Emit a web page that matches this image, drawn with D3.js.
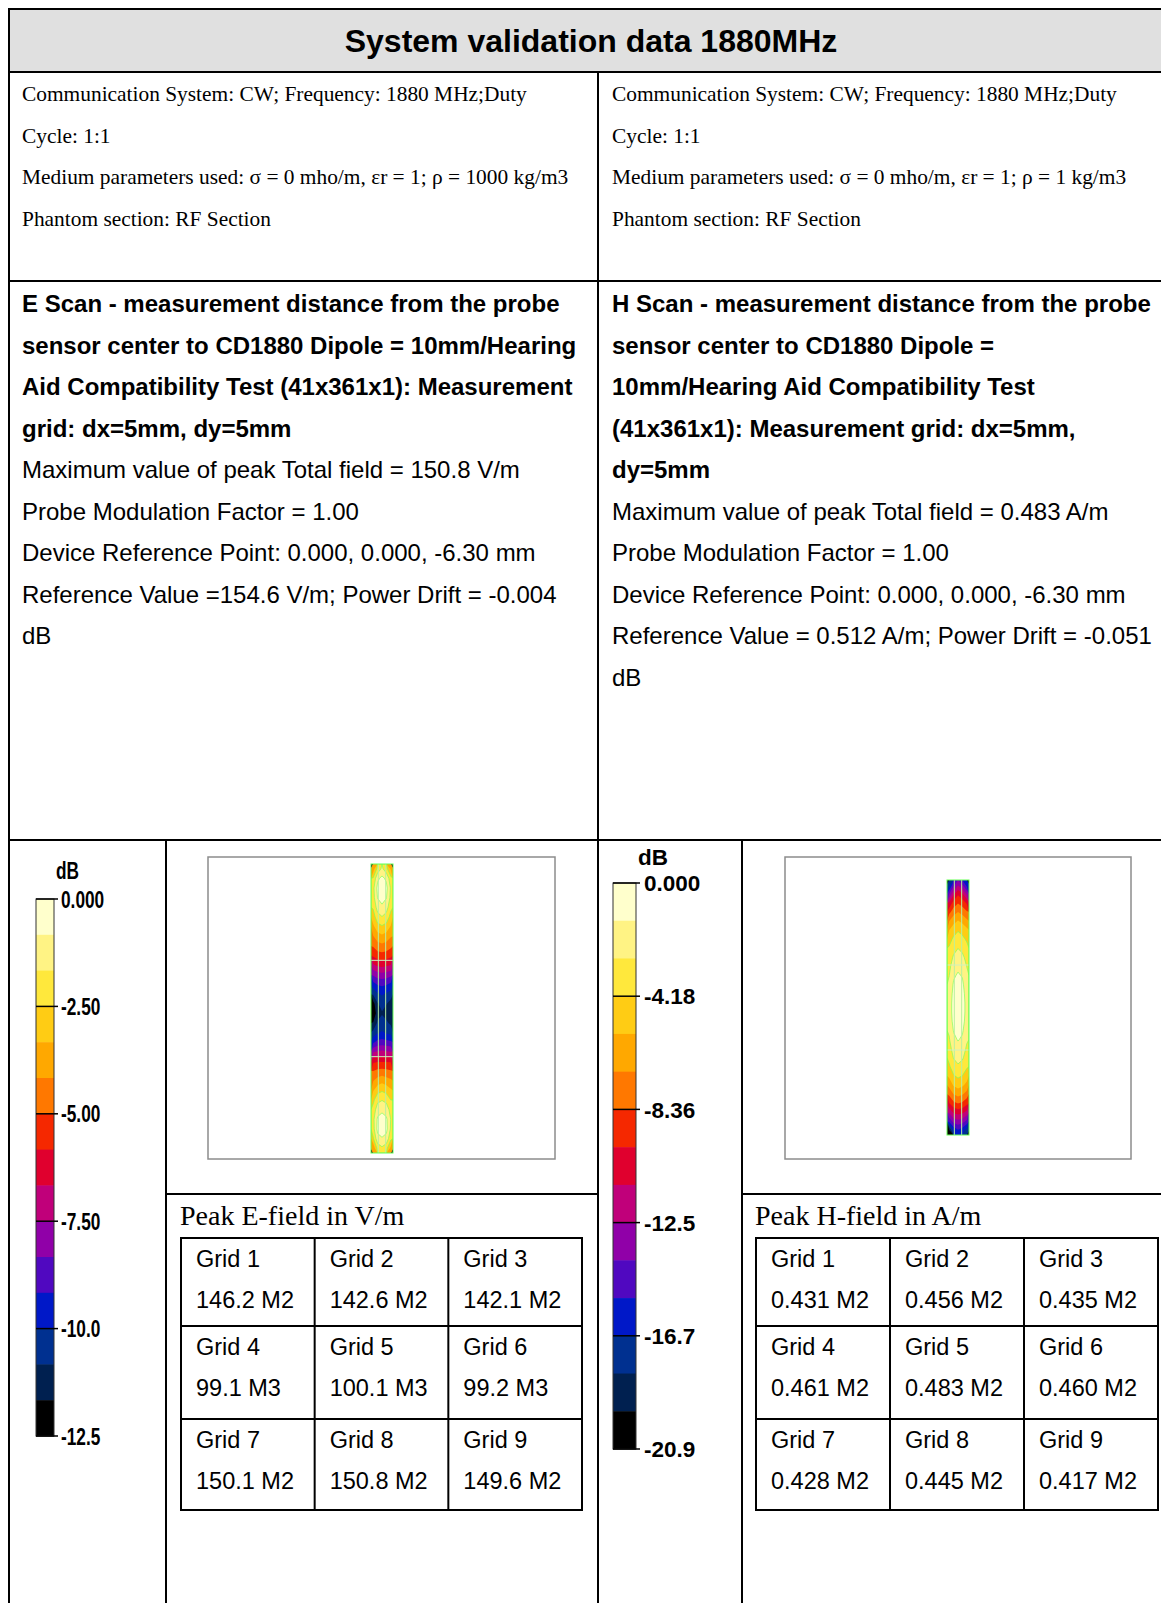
<!DOCTYPE html>
<html><head><meta charset="utf-8">
<script src="https://cdn.jsdelivr.net/npm/d3@7"></script>
<style>body{margin:0;background:#fff;} svg{display:block}</style>
</head><body>
<svg id="c" width="1161" height="1603"></svg>
<script>
// ---------------- data ----------------
const title = "System validation data 1880MHz";
const infoLeft = [
  "Communication System: CW; Frequency: 1880 MHz;Duty",
  "Cycle: 1:1",
  "Medium parameters used: σ = 0 mho/m, εr = 1; ρ = 1000 kg/m3",
  "Phantom section: RF Section"
];
const infoRight = [
  "Communication System: CW; Frequency: 1880 MHz;Duty",
  "Cycle: 1:1",
  "Medium parameters used: σ = 0 mho/m, εr = 1; ρ = 1 kg/m3",
  "Phantom section: RF Section"
];
const eScanBold = [
  "E Scan - measurement distance from the probe",
  "sensor center to CD1880 Dipole = 10mm/Hearing",
  "Aid Compatibility Test (41x361x1): Measurement",
  "grid: dx=5mm, dy=5mm"
];
const eScanText = [
  "Maximum value of peak Total field = 150.8 V/m",
  "Probe Modulation Factor = 1.00",
  "Device Reference Point: 0.000, 0.000, -6.30 mm",
  "Reference Value =154.6 V/m; Power Drift = -0.004",
  "dB"
];
const hScanBold = [
  "H Scan - measurement distance from the probe",
  "sensor center to CD1880 Dipole =",
  "10mm/Hearing Aid Compatibility Test",
  "(41x361x1): Measurement grid: dx=5mm,",
  "dy=5mm"
];
const hScanText = [
  "Maximum value of peak Total field = 0.483 A/m",
  "Probe Modulation Factor = 1.00",
  "Device Reference Point: 0.000, 0.000, -6.30 mm",
  "Reference Value = 0.512 A/m; Power Drift = -0.051",
  "dB"
];
const bandColors = ["#ffffcc","#fff384","#ffe83c","#ffcc14","#ffa800","#ff7800",
  "#f52800","#e0002e","#c0007a","#9000a8","#5008c0","#0018c8","#003090","#002050","#000000"];
const eTickLabels = ["0.000","-2.50","-5.00","-7.50","-10.0","-12.5"];
const eTickValues = [0,-2.5,-5,-7.5,-10,-12.5];
const hTickLabels = ["0.000","-4.18","-8.36","-12.5","-16.7","-20.9"];
const hTickValues = [0,-4.18,-8.36,-12.54,-16.72,-20.9];
const gridNames = ["Grid 1","Grid 2","Grid 3","Grid 4","Grid 5","Grid 6","Grid 7","Grid 8","Grid 9"];
const eGridValues = ["146.2 M2","142.6 M2","142.1 M2","99.1 M3","100.1 M3","99.2 M3","150.1 M2","150.8 M2","149.6 M2"];
const hGridValues = ["0.431 M2","0.456 M2","0.435 M2","0.461 M2","0.483 M2","0.460 M2","0.428 M2","0.445 M2","0.417 M2"];
const eTableTitle = "Peak E-field in V/m";
const hTableTitle = "Peak H-field in A/m";
// field maps in dB (rows top->bottom, 5 samples across the strip)
const eField = [
  [-3.8,-2.2,-1.5,-2.2,-3.5],
  [-2.4,-1.0,-0.6,-1.0,-2.2],
  [-1.9,-0.6,-0.3,-0.6,-1.8],
  [-2.0,-0.8,-0.5,-0.8,-1.9],
  [-2.4,-1.3,-1.0,-1.3,-2.3],
  [-2.9,-2.0,-1.7,-2.0,-2.8],
  [-3.5,-2.8,-2.6,-2.8,-3.4],
  [-4.2,-3.7,-3.5,-3.7,-4.1],
  [-4.9,-4.5,-4.4,-4.5,-4.8],
  [-5.7,-5.4,-5.3,-5.4,-5.6],
  [-6.8,-6.5,-6.4,-6.5,-6.7],
  [-8.2,-7.9,-7.8,-7.9,-8.1],
  [-9.5,-9.1,-9.0,-9.1,-9.4],
  [-10.7,-10.1,-9.9,-10.1,-10.4],
  [-12.0,-10.9,-10.6,-10.8,-11.2],
  [-12.4,-11.2,-10.9,-11.1,-11.5],
  [-11.6,-10.7,-10.5,-10.7,-11.0],
  [-10.6,-10.1,-9.9,-10.1,-10.3],
  [-9.3,-8.9,-8.8,-8.9,-9.0],
  [-7.6,-7.4,-7.3,-7.4,-7.5],
  [-6.0,-5.9,-5.9,-5.9,-5.9],
  [-5.0,-4.8,-4.7,-4.8,-4.9],
  [-4.2,-3.8,-3.6,-3.8,-4.0],
  [-3.4,-2.8,-2.6,-2.8,-3.2],
  [-2.7,-1.9,-1.7,-1.9,-2.5],
  [-2.2,-1.2,-1.0,-1.2,-2.0],
  [-1.9,-0.7,-0.5,-0.7,-1.7],
  [-2.0,-0.6,-0.4,-0.6,-1.8],
  [-2.6,-1.1,-0.9,-1.1,-2.3],
  [-4.0,-2.2,-1.8,-2.2,-3.6]
];
const hField = [
  [-17.5,-14.5,-12.8,-14.0,-16.0],
  [-14.0,-11.5,-10.0,-11.0,-12.8],
  [-11.0,-9.2,-8.5,-9.0,-10.0],
  [-8.8,-7.6,-7.0,-7.5,-8.2],
  [-7.0,-6.0,-5.5,-5.9,-6.6],
  [-5.6,-4.8,-4.3,-4.7,-5.2],
  [-4.7,-3.9,-3.5,-3.8,-4.4],
  [-4.0,-3.2,-2.8,-3.1,-3.7],
  [-3.5,-2.6,-2.2,-2.5,-3.2],
  [-3.1,-2.1,-1.7,-2.0,-2.8],
  [-2.8,-1.6,-1.2,-1.5,-2.5],
  [-2.6,-1.2,-0.8,-1.1,-2.3],
  [-2.4,-0.9,-0.5,-0.8,-2.1],
  [-2.3,-0.7,-0.3,-0.6,-2.0],
  [-2.3,-0.7,-0.3,-0.6,-2.0],
  [-2.4,-0.9,-0.5,-0.8,-2.1],
  [-2.6,-1.3,-0.9,-1.2,-2.3],
  [-2.9,-1.7,-1.3,-1.6,-2.6],
  [-3.3,-2.2,-1.8,-2.1,-3.0],
  [-3.8,-2.7,-2.3,-2.6,-3.4],
  [-4.4,-3.4,-3.0,-3.3,-4.0],
  [-5.3,-4.3,-3.9,-4.2,-4.9],
  [-6.5,-5.4,-5.0,-5.3,-6.0],
  [-8.0,-6.9,-6.5,-6.8,-7.5],
  [-9.8,-8.7,-8.3,-8.6,-9.3],
  [-12.2,-10.9,-10.5,-10.8,-11.6],
  [-15.0,-13.4,-13.0,-13.3,-14.3],
  [-19.8,-16.5,-15.5,-16.2,-17.5]
];

// ---------------- drawing ----------------
const svg = d3.select("#c");
const SERIF = "'Liberation Serif','Times New Roman',serif";
const SANS = "'Liberation Sans',Arial,sans-serif";

// header band
svg.append("rect").attr("x",8).attr("y",8).attr("width",1170).attr("height",64).attr("fill","#e0e0e0");
svg.append("text").attr("x",591).attr("y",52).attr("text-anchor","middle")
  .attr("font-family",SANS).attr("font-weight","bold").attr("font-size",32).text(title);

// table lines
const lines = [
  [8,9,1180,9],[8,72,1180,72],[8,281,1180,281],[8,840,1180,840],
  [9,8,9,1603],[598,72,598,1603],[166,840,166,1603],[742,840,742,1603],
  [166,1194,598,1194],[742,1194,1180,1194]
];
svg.append("g").selectAll("line").data(lines).join("line")
  .attr("x1",d=>d[0]).attr("y1",d=>d[1]).attr("x2",d=>d[2]).attr("y2",d=>d[3])
  .attr("stroke","#000").attr("stroke-width",2);

function textBlock(arr, x, y0, step, font, size, weight){
  svg.append("g").selectAll("text").data(arr).join("text")
    .attr("x",x).attr("y",(d,i)=>y0+i*step)
    .attr("font-family",font).attr("font-size",size).attr("font-weight",weight)
    .attr("fill","#000").text(d=>d);
}
textBlock(infoLeft,22,101,41.7,SERIF,21.4,"normal");
textBlock(infoRight,612,101,41.7,SERIF,21.4,"normal");
textBlock(eScanBold,22,312,41.5,SANS,24,"bold");
textBlock(eScanText,22,312+4*41.5,41.5,SANS,24,"normal");
textBlock(hScanBold,612,312,41.5,SANS,24,"bold");
textBlock(hScanText,612,312+5*41.5,41.5,SANS,24,"normal");

// colorbars
function colorbar(x0,x1,yTop,yBot,minV,tickVals,tickLabels,labelX,size,weight,sx,dbX,dbY){
  const y = d3.scaleLinear().domain([0,minV]).range([yTop,yBot]);
  const n = bandColors.length;
  const edges = d3.range(n+1).map(i=>i*minV/n);
  const g = svg.append("g");
  g.selectAll("rect.band").data(bandColors).join("rect").attr("class","band")
    .attr("x",x0).attr("width",x1-x0)
    .attr("y",(d,i)=>y(edges[i])).attr("height",(d,i)=>y(edges[i+1])-y(edges[i])+0.5)
    .attr("fill",d=>d);
  g.append("rect").attr("x",x0).attr("y",yTop).attr("width",x1-x0).attr("height",yBot-yTop)
    .attr("fill","none").attr("stroke","#333").attr("stroke-width",1);
  g.selectAll("line.tick").data(tickVals).join("line").attr("class","tick")
    .attr("x1",x0).attr("x2",x1+4).attr("y1",d=>y(d)).attr("y2",d=>y(d))
    .attr("stroke","#000").attr("stroke-width",1.5);
  g.selectAll("text.tl").data(tickVals).join("text").attr("class","tl")
    .attr("transform",d=>`translate(${labelX},${y(d)}) scale(${sx},1)`)
    .attr("dy","0.36em")
    .attr("font-family",SANS).attr("font-size",size).attr("font-weight",weight)
    .text((d,i)=>tickLabels[i]);
  g.append("text").attr("transform",`translate(${dbX},${dbY}) scale(${sx},1)`).attr("font-family",SANS)
    .attr("font-size",size).attr("font-weight",weight).text("dB");
}
colorbar(36,54,899,1436,-12.5,eTickValues,eTickLabels,61,24,"bold",0.72,56,879);
colorbar(613,636,883,1449,-20.9,hTickValues,hTickLabels,644,22.5,"bold",1.0,638,865);

// field maps
let clipId = 0;
function fieldMap(frame, strip, field, minV){
  svg.append("rect").attr("x",frame[0]).attr("y",frame[1]).attr("width",frame[2]-frame[0])
    .attr("height",frame[3]-frame[1]).attr("fill","#fff").attr("stroke","#8c8c8c").attr("stroke-width",1.5);
  const nx = field[0].length, ny = field.length;
  const xs = d3.scaleLinear().domain([0,nx]).range([strip[0],strip[2]]);
  const ys = d3.scaleLinear().domain([0,ny]).range([strip[1],strip[3]]);
  const proj = d3.geoTransform({point(px,py){ this.stream.point(xs(px), ys(py)); }});
  const path = d3.geoPath(proj);
  const values = field.flat();
  const n = bandColors.length;
  const step = minV/n;
  const thr = d3.range(n-1,0,-1).map(k=>k*step); // ascending
  const contours = d3.contours().size([nx,ny]).thresholds(thr)(values);
  const id = "clip"+(clipId++);
  svg.append("clipPath").attr("id",id).append("rect")
    .attr("x",strip[0]).attr("y",strip[1]).attr("width",strip[2]-strip[0]).attr("height",strip[3]-strip[1]);
  const g = svg.append("g").attr("clip-path",`url(#${id})`);
  g.append("rect").attr("x",strip[0]).attr("y",strip[1]).attr("width",strip[2]-strip[0])
    .attr("height",strip[3]-strip[1]).attr("fill",bandColors[n-1]);
  g.selectAll("path.band").data(contours).join("path").attr("class","band")
    .attr("d",path)
    .attr("fill",c=>bandColors[Math.round(c.value/step)-1]);
  // green contour lines in the high-level area
  g.selectAll("path.iso").data(contours.filter(c=>Math.round(c.value/step)<=3)).join("path").attr("class","iso")
    .attr("d",path).attr("fill","none").attr("stroke","#7dff5a").attr("stroke-width",0.8).attr("opacity",0.85);
  // grid divisions
  const gx = [nx/3, 2*nx/3], gy = [ny/3, 2*ny/3];
  g.selectAll("line.gx").data(gx).join("line").attr("class","gx")
    .attr("x1",d=>xs(d)).attr("x2",d=>xs(d)).attr("y1",strip[1]).attr("y2",strip[3])
    .attr("stroke","#b8f0a0").attr("stroke-width",1);
  g.selectAll("line.gy").data(gy).join("line").attr("class","gy")
    .attr("x1",strip[0]).attr("x2",strip[2]).attr("y1",d=>ys(d)).attr("y2",d=>ys(d))
    .attr("stroke","#d0f0c0").attr("stroke-width",1);
  svg.append("rect").attr("x",strip[0]).attr("y",strip[1]).attr("width",strip[2]-strip[0])
    .attr("height",strip[3]-strip[1]).attr("fill","none").attr("stroke","#66ff55").attr("stroke-width",1);
}
fieldMap([208,857,555,1159],[371,864,393,1153],eField,-12.5);
fieldMap([785,857,1131,1159],[947,880,969,1135],hField,-20.9);

// grid tables
function gridTable(x0,x1,yRows,titleText,values){
  svg.append("text").attr("x",x0-1).attr("y",1225).attr("font-family",SERIF).attr("font-size",28).text(titleText);
  const xb = d3.scaleLinear().domain([0,3]).range([x0,x1]);
  const g = svg.append("g");
  g.append("rect").attr("x",x0).attr("y",yRows[0]).attr("width",x1-x0).attr("height",yRows[3]-yRows[0])
    .attr("fill","none").attr("stroke","#000").attr("stroke-width",2);
  g.selectAll("line.v").data([1,2]).join("line").attr("class","v")
    .attr("x1",d=>xb(d)).attr("x2",d=>xb(d)).attr("y1",yRows[0]).attr("y2",yRows[3]).attr("stroke","#000").attr("stroke-width",2);
  g.selectAll("line.h").data([1,2]).join("line").attr("class","h")
    .attr("x1",x0).attr("x2",x1).attr("y1",d=>yRows[d]).attr("y2",d=>yRows[d]).attr("stroke","#000").attr("stroke-width",2);
  const cells = gridNames.map((nm,i)=>({nm, v:values[i], c:i%3, r:Math.floor(i/3)}));
  g.selectAll("text.n").data(cells).join("text").attr("class","n")
    .attr("x",d=>xb(d.c)+15).attr("y",d=>yRows[d.r]+29)
    .attr("font-family",SANS).attr("font-size",23.5).text(d=>d.nm);
  g.selectAll("text.val").data(cells).join("text").attr("class","val")
    .attr("x",d=>xb(d.c)+15).attr("y",d=>yRows[d.r]+70)
    .attr("font-family",SANS).attr("font-size",23.5).text(d=>d.v);
}
gridTable(181,582,[1238,1326,1419,1510],eTableTitle,eGridValues);
gridTable(756,1158,[1238,1326,1419,1510],hTableTitle,hGridValues);
</script>
</body></html>
